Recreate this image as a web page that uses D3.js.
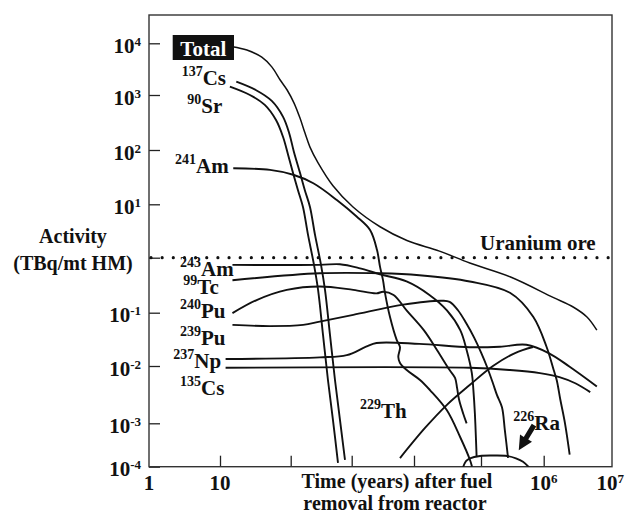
<!DOCTYPE html>
<html>
<head>
<meta charset="utf-8">
<script src="https://cdn.jsdelivr.net/npm/d3@7"></script>
<style>
  body { margin: 0; background: #fff; }
  svg { display: block; font-family: "Liberation Serif", "Times New Roman", serif; font-weight: bold; }
</style>
</head>
<body>
<svg id="chart" width="626" height="519"></svg>
<script>
// Activity of spent fuel (TBq/mt HM) vs time after removal
// each series is [years, activity]
var total  = [[15,8600],[24,7400],[39,5400],[54,3500],[71,1950],[89,1250],[113,720],[142,380],[171,205],[207,113],[281,58],[493,22],[1050,8.9],[2850,3.8],[7700,2.1],[24000,1.33],[68000,0.8],[290000,0.45],[1.37e6,0.19],[2.7e6,0.127],[4.3e6,0.083],[6e6,0.047]];
var cs137  = [[17,1810],[32,1250],[54,780],[78,400],[95,204],[113,92],[142,38],[171,18],[207,8.9],[250,2.7],[314,0.74],[365,0.26],[441,0.038],[532,0.0057],[643,0.00114],[776,1.43e-4]];
var sr90   = [[13.8,1450],[26.5,1000],[43,660],[62,350],[78,172],[92,81],[109,38],[132,18],[159,8.9],[192,2.7],[241,0.74],[281,0.26],[339,0.038],[408,0.0057],[493,0.00114],[596,1.22e-4]];
var am241  = [[15.4,46],[51,43],[110,35],[235,24.4],[570,12],[1200,5.9],[1970,3.3],[2550,1.39],[2850,0.68],[3180,0.39],[3420,0.23],[4120,0.083],[5270,0.031],[5960,0.0227],[5600,0.0148],[5960,0.0114],[7640,0.0085],[12300,0.0057],[17300,0.0038],[30800,0.0017],[48600,4.9e-4],[68500,1.43e-4],[73500,1e-4]];
var am243  = [[15,0.74],[300,0.74],[640,0.76],[1360,0.64],[2850,0.5],[7600,0.37],[17000,0.21],[31000,0.11],[49000,0.047],[61000,0.02],[73000,0.0075],[77000,0.0038],[81000,0.0015],[86000,1.7e-4]];
var tc99   = [[15,0.39],[300,0.52],[2850,0.52],[12000,0.48],[68000,0.37],[290000,0.23],[680000,0.084],[1.1e6,0.023],[1.4e6,0.0085],[1.55e6,0.0057],[1.75e6,0.0026],[2.05e6,0.001],[2.4e6,1.9e-4]];
var pu240  = [[15,0.098],[33,0.17],[88,0.26],[300,0.3],[1060,0.26],[2500,0.225],[3200,0.24],[4700,0.21],[7600,0.11],[14000,0.047],[22000,0.02],[34000,0.0085],[41000,0.0062],[44000,0.0041],[47000,0.0026],[54000,0.0015],[61000,0.001]];
var pu239  = [[15,0.059],[51,0.056],[160,0.059],[300,0.068],[1060,0.091],[6700,0.14],[27000,0.165],[34000,0.157],[45000,0.112],[60000,0.064],[79000,0.034],[100000,0.018],[125000,0.0096],[155000,0.005],[180000,0.0031],[216000,0.0019],[240000,7e-4],[270000,1.6e-4]];
var np237  = [[12,0.0135],[300,0.0145],[830,0.016],[1700,0.023],[2500,0.027],[12000,0.026],[68000,0.0225],[200000,0.023],[530000,0.025],[1.2e6,0.0173],[2.4e6,0.0097],[6e6,0.0044]];
var cs135  = [[12,0.0093],[68000,0.0093],[290000,0.0085],[870000,0.0075],[1.7e6,0.0064],[2.9e6,0.005],[4.8e6,0.0035]];
var th229  = [[5960,1.58e-4],[14600,7.8e-4],[31000,0.0021],[68500,0.0047],[155000,0.01],[349000,0.0175],[675000,0.0227]];
var ra226  = [[52000,8.2e-5],[59700,1.35e-4],[68500,1.56e-4],[96600,1.77e-4],[155000,1.81e-4],[260000,1.77e-4],[361000,1.56e-4],[468000,1.3e-4],[650000,8.2e-5]];

var xTicks = [1, 10, 100, 1e3, 1e4, 1e5, 1e6, 1e7];
var xTickLabels = [["1",""], ["10",""], null, null, null, null, ["10","6"], ["10","7"]];
var yTicks = [1e-4, 1e-3, 1e-2, 1e-1, 1, 10, 100, 1e3, 1e4];
var yTickLabels = [["10","-4"],["10","-3"],["10","-2"],["10","-1"],null,["10","1"],["10","2"],["10","3"],["10","4"]];

// curve labels: superscript mass number + element
var labelSup  = ["137","90","241","243","99","240","239","237","135","229","226"];
var labelName = ["Cs","Sr","Am","Am","Tc","Pu","Pu","Np","Cs","Th","Ra"];

(function(){

	var seriesList = [total, cs137, sr90, am241, am243, tc99, pu240, pu239, np237, cs135, th229, ra226];

	// frame of the hand-drawn plot
	var left = 149, right = 612, plotTop = 15, bottom = 466.7;

	var svg = d3.select("#chart");

	// the original axes are hand spaced, so the decades are not quite even
	var x = d3.scaleLog()
		.domain(xTicks)
		.range([left, 220, 290.7, 351.7, 414, 481, 543.7, right]);
	var y = d3.scaleLog()
		.domain(yTicks)
		.range([bottom, 423.3, 366, 312.7, 257.7, 204.3, 150, 95, 43.3]);

	svg.append("defs").append("clipPath").attr("id", "plotClip")
		.append("rect").attr("x", left).attr("y", plotTop)
		.attr("width", right - left).attr("height", bottom - plotTop);

	// ticks (inward) via d3 axes
	svg.append("g")
		.attr("transform", "translate(" + left + ",0)")
		.call(d3.axisLeft(y).tickValues(yTicks).tickSizeInner(-11).tickSizeOuter(0).tickFormat(""));
	svg.append("g")
		.attr("transform", "translate(0," + bottom + ")")
		.call(d3.axisBottom(x).tickValues(xTicks.slice(1, 7)).tickSizeInner(-11).tickSizeOuter(0).tickFormat(""));
	svg.selectAll(".domain").remove();
	svg.selectAll(".tick line").attr("stroke", "#222").attr("stroke-width", 1.3);

	// frame
	svg.append("rect")
		.attr("x", left).attr("y", plotTop)
		.attr("width", right - left).attr("height", bottom - plotTop)
		.attr("fill", "none").attr("stroke", "#333").attr("stroke-width", 1.4);

	// tick labels with superscript exponents
	yTicks.forEach(function(v, i){
		var lab = yTickLabels[i];
		if(!lab) return;
		var t = svg.append("text")
			.attr("x", 141).attr("y", y(v) + 9.5)
			.attr("text-anchor", "end").attr("fill", "#111");
		t.append("tspan").attr("font-size", 21).text(lab[0]);
		t.append("tspan").attr("font-size", 13).attr("dy", -7).text(lab[1]);
	});
	xTicks.forEach(function(v, i){
		var lab = xTickLabels[i];
		if(!lab) return;
		var last = (i == xTicks.length - 1);
		var t = svg.append("text")
			.attr("x", last ? 624 : x(v)).attr("y", 490)
			.attr("text-anchor", last ? "end" : "middle").attr("fill", "#111");
		t.append("tspan").attr("font-size", 21).text(lab[0]);
		if(lab[1]) t.append("tspan").attr("font-size", 13).attr("dy", -7).text(lab[1]);
	});

	// axis titles
	svg.append("text").attr("x", 73).attr("y", 243).attr("text-anchor", "middle")
		.attr("font-size", 20).attr("fill", "#111").text("Activity");
	svg.append("text").attr("x", 73).attr("y", 270).attr("text-anchor", "middle")
		.attr("font-size", 20).attr("fill", "#111").text("(TBq/mt HM)");
	svg.append("text").attr("x", 397).attr("y", 488).attr("text-anchor", "middle")
		.attr("font-size", 20).attr("fill", "#111").text("Time (years) after fuel");
	svg.append("text").attr("x", 395).attr("y", 510).attr("text-anchor", "middle")
		.attr("font-size", 20).attr("fill", "#111").text("removal from reactor");

	var plot = svg.append("g").attr("clip-path", "url(#plotClip)");

	// uranium ore reference level
	plot.append("line")
		.attr("x1", left + 2).attr("x2", right)
		.attr("y1", y(1)).attr("y2", y(1))
		.attr("stroke", "#111").attr("stroke-width", 3.2)
		.attr("stroke-linecap", "round").attr("stroke-dasharray", "0 11.15");
	svg.append("text").attr("x", 480).attr("y", 250)
		.attr("font-size", 21).attr("fill", "#111").text("Uranium ore");

	// curves
	var line = d3.line()
		.x(function(d){ return x(d[0]); })
		.y(function(d){ return y(d[1]); })
		.curve(d3.curveCatmullRom.alpha(0.5));

	plot.selectAll(".curve")
		.data(seriesList)
		.enter()
		.append("path")
		.attr("class", "curve")
		.attr("d", line)
		.attr("fill", "none")
		.attr("stroke", "#111")
		.attr("stroke-width", function(d, i){ return i == 0 ? 1.5 : 1.9; });

	// "Total" tag
	svg.append("rect").attr("x", 172.7).attr("y", 35).attr("width", 61.3).attr("height", 25).attr("fill", "#111");
	svg.append("text").attr("x", 203.3).attr("y", 55.5).attr("text-anchor", "middle")
		.attr("font-size", 21).attr("fill", "#fff").text("Total");

	// element labels
	var labelX = [181.7, 187.3, 175, 180, 183.3, 180, 180, 173.3, 180, 360, 513.3];
	var labelY = [85, 113.3, 173.3, 276, 294, 318.3, 345, 368.3, 395, 418.3, 430];
	labelName.forEach(function(name, i){
		var t = svg.append("text").attr("x", labelX[i]).attr("y", labelY[i]).attr("fill", "#111");
		t.append("tspan").attr("font-size", 14).attr("dy", -9).text(labelSup[i]);
		t.append("tspan").attr("font-size", 21).attr("dy", 9).text(name);
	});

	// arrow pointing at the 226Ra hump
	var tip = [x(4.0e5), y(2.4e-4)];
	var tail = [x(7.0e5), y(9.1e-4)];
	var dx = tail[0] - tip[0], dy = tail[1] - tip[1];
	var len = Math.sqrt(dx*dx + dy*dy);
	var ux = dx/len, uy = dy/len, px = -uy, py = ux;
	var headL = 14, headW = 7, shaftW = 2.6;
	var b = [tip[0] + ux*headL, tip[1] + uy*headL];
	var pts = [
		tip,
		[b[0] + px*headW, b[1] + py*headW],
		[b[0] + px*shaftW, b[1] + py*shaftW],
		[tail[0] + px*shaftW, tail[1] + py*shaftW],
		[tail[0] - px*shaftW, tail[1] - py*shaftW],
		[b[0] - px*shaftW, b[1] - py*shaftW],
		[b[0] - px*headW, b[1] - py*headW]
	];
	svg.append("polygon")
		.attr("points", pts.map(function(p){ return p.join(","); }).join(" "))
		.attr("fill", "#111");

})();
</script>
</body>
</html>
